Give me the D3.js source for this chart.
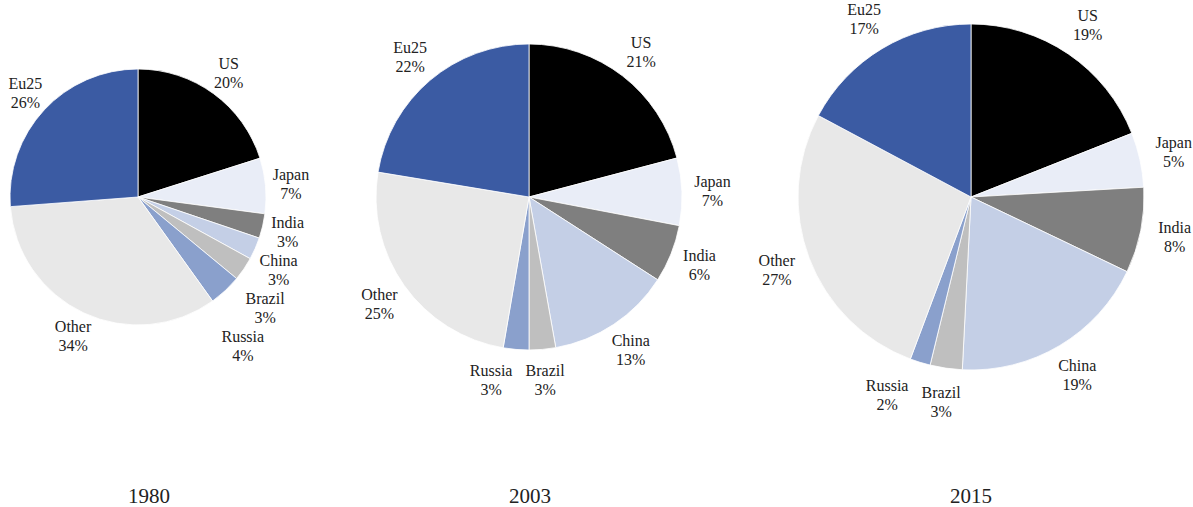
<!DOCTYPE html>
<meta charset="utf-8">
<style>
body { margin: 0; background: white; }
text { font-family: "Liberation Serif", "DejaVu Serif", serif; fill: #222; }
</style>
<body>
<script src="https://d3js.org/d3.v7.min.js"></script>
<script>

// Share of world GDP, by region
const regions = ['US', 'Japan', 'India', 'China', 'Brazil', 'Russia', 'Other', 'Eu25']
const years = ['1980', '2003', '2015']

// shares (labels show the rounded %)
const share1980 = [20.1, 7.0, 3.1, 2.8, 3.0, 4.1, 33.7, 26.2]
const share2003 = [20.9, 7.1, 6.1, 13.1, 2.8, 2.7, 24.9, 22.4]
const share2015 = [19.0, 5.1, 8.0, 18.7, 3.0, 1.9, 27.1, 17.2]

const label1980 = [20, 7, 3, 3, 3, 4, 34, 26]
const label2003 = [21, 7, 6, 13, 3, 3, 25, 22]
const label2015 = [19, 5, 8, 19, 3, 2, 27, 17]

const width = 1193
const height = 507

const colors = d3.scaleOrdinal()
  .domain(regions)
  .range(['#000000', '#e9edf7', '#7f7f7f', '#c4cfe6', '#bfbfbf', '#8aa0cc', '#e8e8e8', '#3b5ba3'])

// layout of the three pies
const pies = [
  { year: years[0], values: share1980, labels: label1980, cx: 138, r: 128, yearX: 149 },
  { year: years[1], values: share2003, labels: label2003, cx: 529, r: 153, yearX: 530 },
  { year: years[2], values: share2015, labels: label2015, cx: 971, r: 173, yearX: 971 }
]
const cy = 197

const svg = d3.select('body')
  .append('svg')
  .attr('width', width)
  .attr('height', height)

const pie = d3.pie().sort(null).value(d => d.value)

pies.forEach(p => {
  const data = regions.map((name, i) => ({ name, value: p.values[i], pct: p.labels[i] }))
  const arcs = pie(data)

  const g = svg.append('g')
    .attr('transform', `translate(${p.cx},${cy})`)

  const arc = d3.arc().innerRadius(0).outerRadius(p.r)
  const labelArc = d3.arc().innerRadius(p.r * 1.2).outerRadius(p.r * 1.2)

  g.selectAll('path')
    .data(arcs)
    .enter()
    .append('path')
    .attr('d', arc)
    .attr('fill', d => colors(d.data.name))
    .attr('stroke', 'white')
    .attr('stroke-width', 0.8)

  // label boxes; a later label moves away from an earlier one it overlaps
  const boxes = arcs.map(d => {
    const c = labelArc.centroid(d)
    const w = Math.max(d.data.name.length * 8, 28)
    return { d, x: c[0], y: c[1], x0: c[0], y0: c[1], w, h: 38 }
  })
  for (let it = 0; it < 20; it++) {
    for (let i = 0; i < boxes.length; i++) {
      for (let j = i + 1; j < boxes.length; j++) {
        const a = boxes[i], b = boxes[j]
        const ox = (a.w + b.w) / 2 + 6 - Math.abs(a.x - b.x)
        const oy = (a.h + b.h) / 2 - Math.abs(a.y - b.y)
        if (ox > 0 && oy > 0) {
          // side by side at the start -> spread sideways, else stack
          if (Math.abs(a.y0 - b.y0) < Math.abs(a.x0 - b.x0)) {
            b.x += (b.x < a.x ? -1 : 1) * ox
          } else {
            b.y += (b.y < a.y ? -1 : 1) * oy
          }
        }
      }
    }
  }

  const lab = g.selectAll('text.lab')
    .data(boxes)
    .enter()
    .append('text')
    .attr('class', 'lab')
    .attr('text-anchor', 'middle')
    .attr('font-size', 16)

  lab.append('tspan')
    .attr('x', b => b.x)
    .attr('y', b => b.y - 4)
    .text(b => b.d.data.name)

  lab.append('tspan')
    .attr('x', b => b.x)
    .attr('y', b => b.y + 15)
    .text(b => b.d.data.pct + '%')

  svg.append('text')
    .attr('x', p.yearX)
    .attr('y', 503)
    .attr('text-anchor', 'middle')
    .attr('font-size', 21)
    .text(p.year)
})

</script>
</body>
</html>
